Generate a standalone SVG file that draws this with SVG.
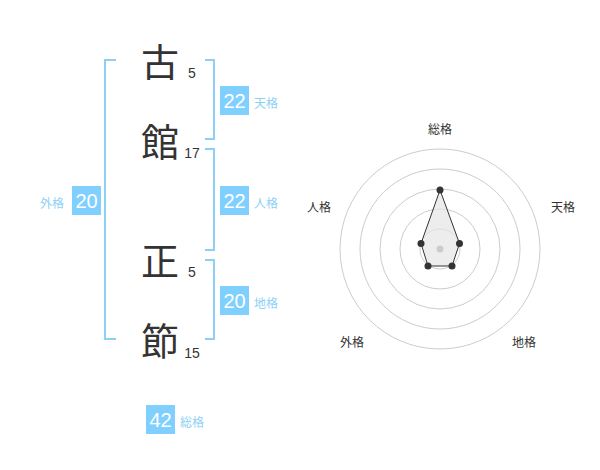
<svg xmlns="http://www.w3.org/2000/svg" width="600" height="470" viewBox="0 0 600 470">
<style>
.big{font-family:"Noto Sans CJK JP","Noto Sans CJK SC",sans-serif;font-size:38px;fill:#333;text-anchor:middle}
.num{font-family:"Liberation Sans",Arial,sans-serif;font-size:14px;fill:#333;text-anchor:middle}
.br{fill:none;stroke:#8dd0f7;stroke-width:2}
.box{fill:#7fcfff}
.bn{font-family:"Liberation Sans",Arial,sans-serif;font-size:20px;fill:#fff;text-anchor:middle}
.lb{font-family:"Noto Sans CJK JP","Noto Sans CJK SC",sans-serif;font-size:12px;fill:#8dd0f7}
.rl{font-family:"Noto Sans CJK JP","Noto Sans CJK SC",sans-serif;font-size:12px;fill:#333;text-anchor:middle}
.ring{fill:none;stroke:#ccc;stroke-width:1}
.pt{fill:#333}
</style>
<g id="name">
<g id="c1"><text class="big" x="160" y="76">古</text><text class="num" x="192" y="78">5</text></g>
<g id="c2"><text class="big" x="160" y="156">館</text><text class="num" x="192" y="158">17</text></g>
<g id="c3"><text class="big" x="160" y="275">正</text><text class="num" x="192" y="277">5</text></g>
<g id="c4"><text class="big" x="160" y="355">節</text><text class="num" x="192" y="358">15</text></g>
</g>
<g id="connectors">
<path class="br" d="M116,60H105V339H116"/>
<path class="br" d="M205,60H214V139H205"/>
<path class="br" d="M205,149H214V250H205"/>
<path class="br" d="M205,260H214V339H205"/>
</g>
<g id="tenkaku"><rect class="box" x="220" y="86" width="29" height="29"/><text class="bn" x="234.5" y="108">22</text><text class="lb" x="254" y="108">天格</text></g>
<g id="jinkaku"><rect class="box" x="220" y="186" width="29" height="29"/><text class="bn" x="234.5" y="208">22</text><text class="lb" x="254" y="208">人格</text></g>
<g id="chikaku"><rect class="box" x="220" y="286" width="29" height="29"/><text class="bn" x="234.5" y="308">20</text><text class="lb" x="254" y="308">地格</text></g>
<g id="gaikaku"><rect class="box" x="72" y="186" width="29" height="29"/><text class="bn" x="86.5" y="208">20</text><text class="lb" x="40" y="208">外格</text></g>
<g id="soukaku"><rect class="box" x="146" y="405" width="29" height="29"/><text class="bn" x="160.5" y="427">42</text><text class="lb" x="180" y="427">総格</text></g>
<g id="radar">
<circle class="ring" cx="440" cy="249" r="20"/>
<circle class="ring" cx="440" cy="249" r="40"/>
<circle class="ring" cx="440" cy="249" r="60"/>
<circle class="ring" cx="440" cy="249" r="80"/>
<circle class="ring" cx="440" cy="249" r="100"/>
<polygon points="440,190 459.5,243.5 452,266 428,266 421,243.5" fill="#e6e6e6" fill-opacity="0.7" stroke="#333" stroke-width="1"/>
<circle cx="440" cy="249" r="3.5" fill="#ccc"/>
<circle class="pt" cx="440" cy="190" r="3.5"/>
<circle class="pt" cx="459.5" cy="243.5" r="3.5"/>
<circle class="pt" cx="452" cy="266" r="3.5"/>
<circle class="pt" cx="428" cy="266" r="3.5"/>
<circle class="pt" cx="421" cy="243.5" r="3.5"/>
<text class="rl" x="440" y="134">総格</text>
<text class="rl" x="563" y="212">天格</text>
<text class="rl" x="524" y="347">地格</text>
<text class="rl" x="352" y="347">外格</text>
<text class="rl" x="319" y="212">人格</text>
</g>
</svg>
